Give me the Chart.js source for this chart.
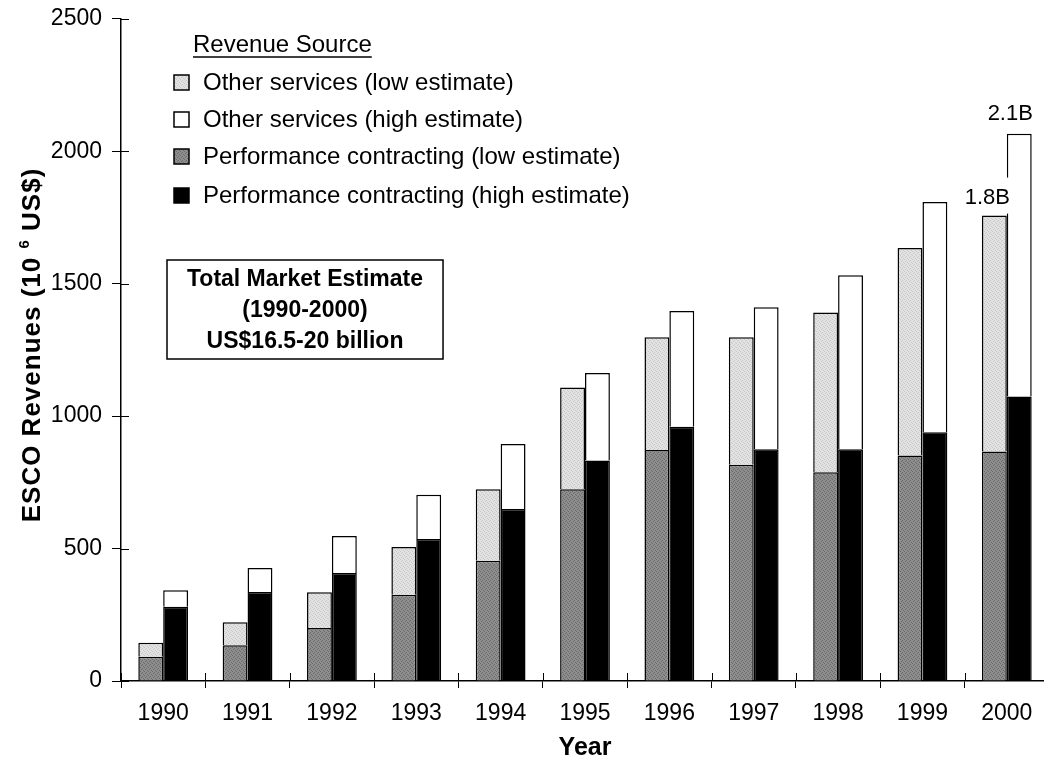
<!DOCTYPE html>
<html>
<head>
<meta charset="utf-8">
<script src="https://cdn.jsdelivr.net/npm/chart.js@4.4.0/dist/chart.umd.min.js"></script>
<style>
  html, body { margin: 0; padding: 0; background: #fff; overflow: hidden; }
  #wrap { width: 1052px; height: 772px; margin-top: -5px; }
</style>
</head>
<body>
<div id="wrap"><canvas id="myChart"></canvas></div>
<script>
// Data (10^6 US$)
const years = ['1990', '1991', '1992', '1993', '1994', '1995', '1996', '1997', '1998', '1999', '2000'];
const perfLow   = [92, 135, 200, 326, 454, 724, 872, 816, 788, 851, 866];
const otherLow  = [52, 87, 135, 180, 270, 384, 426, 482, 603, 784, 891];
const perfHigh  = [280, 336, 408, 536, 649, 832, 960, 875, 875, 939, 1074];
const otherHigh = [63, 91, 139, 167, 246, 331, 437, 536, 657, 869, 992];
const yTicks = [0, 500, 1000, 1500, 2000, 2500];
const totalLabels = ['1.8B', '2.1B'];

const FONT = '"Liberation Sans", Arial, sans-serif';

function makePattern(c1, c2) {
    const p = document.createElement('canvas');
    p.width = 4; p.height = 4;
    const g = p.getContext('2d');
    g.fillStyle = c1;
    g.fillRect(0, 0, 4, 4);
    g.fillStyle = c2;
    g.fillRect(0, 0, 1, 1); g.fillRect(2, 1, 1, 1);
    g.fillRect(1, 2, 1, 1); g.fillRect(3, 3, 1, 1);
    return g.createPattern(p, 'repeat');
}
const ctx = document.getElementById('myChart');
const perfLowFill = makePattern('#8e8e8e', '#6a6a6a');
const otherLowFill = makePattern('#e2e2e2', '#c8c8c8');

// legend, text box, inner tick halves, y title and total labels
const extras = {
    id: 'extras',
    afterDatasetsDraw(chart) {
        const c = chart.ctx;
        const xs = chart.scales.x, ys = chart.scales.y;
        c.save();
        c.fillStyle = '#000';
        c.strokeStyle = '#000';

        // tick marks cross the axes
        c.lineWidth = 1;
        c.beginPath();
        yTicks.forEach(v => {
            const py = Math.round(ys.getPixelForValue(v)) + 0.5;
            c.moveTo(xs.left, py); c.lineTo(xs.left + 8, py);
        });
        const cw = xs.width / years.length;
        for (let i = 0; i <= years.length; i++) {
            const px = Math.round(xs.left + i * cw) + 0.5;
            c.moveTo(px, ys.bottom); c.lineTo(px, ys.bottom - 8);
        }
        c.stroke();

        // y title with superscript (page is shifted up 5px)
        c.save();
        c.translate(33, 350);
        c.rotate(-Math.PI / 2);
        c.textBaseline = 'middle';
        c.letterSpacing = '1px';
        const parts = [['ESCO Revenues (10 ', 'bold 26px '], ['6', 'bold 15px '], [' US$)', 'bold 26px ']];
        let total = 0;
        parts.forEach(p => { c.font = p[1] + FONT; total += c.measureText(p[0]).width; });
        let px = -total / 2;
        parts.forEach(p => {
            c.font = p[1] + FONT;
            c.textAlign = 'left';
            c.fillText(p[0], px, p[0] === '6' ? -8 : 0);
            px += c.measureText(p[0]).width;
        });
        c.restore();

        // legend
        c.font = '24px ' + FONT;
        c.textBaseline = 'middle';
        c.textAlign = 'left';
        c.fillText('Revenue Source', 193, 50);
        const w = c.measureText('Revenue Source').width;
        c.lineWidth = 1.5;
        c.beginPath(); c.moveTo(193, 62); c.lineTo(193 + w, 62); c.stroke();
        const order = [1, 3, 0, 2];
        const rows = [88, 125, 162, 201];
        order.forEach((di, i) => {
            const ds = chart.data.datasets[di];
            c.fillStyle = ds.backgroundColor;
            c.fillRect(174, rows[i] - 8, 15, 15);
            c.lineWidth = 1.5;
            c.strokeRect(174, rows[i] - 8, 15, 15);
            c.fillStyle = '#000';
            c.fillText(ds.label, 203, rows[i]);
        });

        // box
        c.font = 'bold 23px ' + FONT;
        const boxLines = ['Total Market Estimate', '(1990-2000)', 'US$16.5-20 billion'];
        const bw = c.measureText(boxLines[0]).width + 40;
        c.lineWidth = 1.5;
        c.strokeRect(167, 265, bw, 99);
        c.textAlign = 'center';
        boxLines.forEach((t, i) => {
            c.fillText(t, 167 + bw / 2, 285 + i * 31);
        });

        // totals for 2000
        const last = years.length - 1;
        const lo = chart.getDatasetMeta(1).data[last];
        const hi = chart.getDatasetMeta(3).data[last];
        c.font = '22px ' + FONT;
        const t1w = c.measureText(totalLabels[0]).width;
        c.fillStyle = '#fff';
        c.fillRect(lo.x - 7 - t1w / 2 - 2, lo.y - 38, t1w + 4, 36);
        c.fillStyle = '#000';
        c.fillText(totalLabels[0], lo.x - 7, lo.y - 18);
        c.fillText(totalLabels[1], hi.x - 9, hi.y - 20);
        c.restore();
    }
};

const myChart = new Chart(ctx, {
    type: 'bar',
    data: {
        labels: years,
        datasets: [
            { label: 'Performance contracting (low estimate)', data: perfLow, stack: 'low', backgroundColor: perfLowFill },
            { label: 'Other services (low estimate)', data: otherLow, stack: 'low', backgroundColor: otherLowFill },
            { label: 'Performance contracting (high estimate)', data: perfHigh, stack: 'high', backgroundColor: '#000' },
            { label: 'Other services (high estimate)', data: otherHigh, stack: 'high', backgroundColor: '#fff' }
        ].map(d => Object.assign(d, { borderColor: '#000', borderWidth: 1.5, borderSkipped: 'bottom', barPercentage: 1, categoryPercentage: 0.59 }))
    },
    options: {
        responsive: true,
        maintainAspectRatio: false,
        animation: false,
        layout: { padding: { left: 0, top: 10, right: 3, bottom: 0 }, autoPadding: false },
        plugins: {
            legend: { display: false },
            tooltip: { enabled: false }
        },
        scales: {
            x: {
                stacked: true,
                grid: { drawOnChartArea: false, offset: true, tickLength: 7, color: '#000', tickWidth: 1 },
                border: { color: '#000', width: 1.5 },
                ticks: { color: '#000', font: { family: FONT, size: 23 }, padding: 12, maxRotation: 0 },
                title: { display: true, text: 'Year', color: '#000', font: { family: FONT, size: 25, weight: 'bold' }, padding: { top: 0 } },
                afterFit(scale) { scale.height = 86; }
            },
            y: {
                stacked: true,
                min: 0,
                max: 2500,
                afterBuildTicks(scale) { scale.ticks = yTicks.map(v => ({ value: v })); },
                grid: { drawOnChartArea: false, tickLength: 9, color: '#000' },
                border: { color: '#000', width: 1.5 },
                ticks: { color: '#000', font: { family: FONT, size: 23 }, padding: 10, callback: v => String(v) },
                title: { display: false },
                afterFit(scale) { scale.width = 121; }
            }
        }
    },
    plugins: [extras]
});
</script>
</body>
</html>
